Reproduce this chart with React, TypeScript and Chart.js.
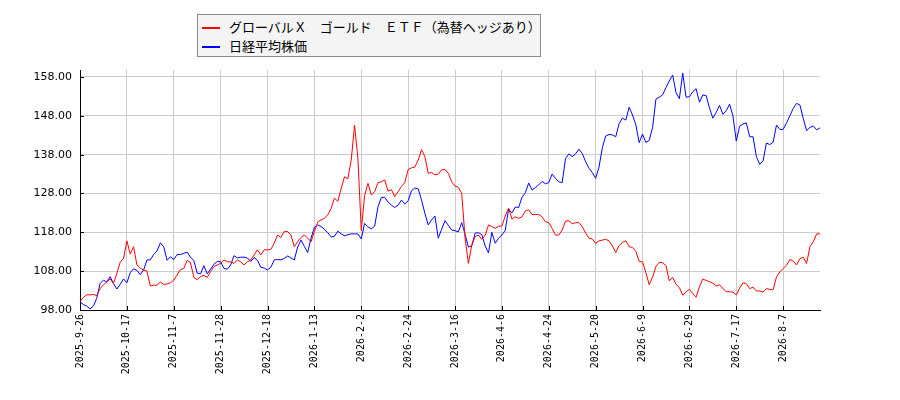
import { useEffect, useRef } from "react";
import { Chart, registerables } from "chart.js";

Chart.register(...registerables);

// tick label every 14 trading days
const tickLabels = [
  "2025-9-26", "2025-10-17", "2025-11-7", "2025-11-28", "2025-12-18", "2026-1-13",
  "2026-2-2", "2026-2-24", "2026-3-16", "2026-4-6", "2026-4-24", "2026-5-20",
  "2026-6-9", "2026-6-29", "2026-7-17", "2026-8-7",
];

const goldEtf = [
  100.2, 101.2, 101.9, 101.9, 102.0, 101.7, 103.5, 104.5, 105.2, 106.0, 104.8, 107.4, 110.3, 111.3,
  115.8, 112.4, 114.3, 109.6, 108.8, 108.3, 108.0, 104.2, 104.4, 104.4, 105.2, 104.6, 104.7, 105.0,
  105.7, 107.0, 108.4, 108.7, 110.8, 110.2, 106.4, 105.8, 106.6, 106.9, 106.4, 107.9, 109.2, 109.6,
  110.0, 110.9, 110.4, 110.4, 110.0, 110.9, 110.4, 109.6, 110.4, 110.9, 112.2, 113.5, 112.2, 113.5,
  113.5, 113.6, 115.2, 117.3, 116.7, 118.2, 118.2, 117.3, 114.3, 115.6, 116.7, 117.3, 116.5, 115.6,
  118.2, 120.7, 121.2, 121.6, 122.5, 124.2, 126.8, 126.0, 129.3, 132.3, 131.8, 136.6, 145.6, 137.0,
  118.5, 127.5, 130.6, 127.6, 128.5, 130.8, 131.0, 131.5, 128.6, 129.0, 127.2, 128.5, 129.8, 130.8,
  134.2, 134.6, 134.8, 136.6, 139.3, 137.5, 133.2, 133.4, 132.8, 133.0, 134.1, 134.2, 133.2, 131.0,
  129.9, 129.6, 128.0, 116.5, 110.0, 114.7, 116.9, 117.3, 116.2, 117.3, 119.9, 119.5, 119.0, 119.6,
  119.6, 122.2, 124.2, 121.4, 122.0, 121.6, 122.0, 123.5, 123.8, 122.6, 122.6, 122.6, 122.0, 120.7,
  120.5, 119.0, 117.3, 117.3, 118.6, 120.9, 121.0, 120.2, 120.5, 120.5, 119.5, 117.8, 116.5, 116.3,
  115.2, 115.8, 116.0, 116.2, 115.8, 114.5, 112.8, 114.6, 115.4, 115.8, 114.3, 114.1, 113.1, 110.5,
  110.4, 107.6, 104.5, 106.5, 109.2, 110.3, 110.2, 109.4, 105.5, 106.4, 104.6, 103.8, 101.8, 102.7,
  103.3, 102.3, 101.3, 104.0, 106.0, 105.6, 105.3, 104.9, 104.2, 104.5, 103.5, 102.7, 102.7, 102.6,
  101.9, 103.6, 105.0, 104.8, 103.5, 103.9, 102.9, 102.9, 102.6, 103.5, 103.3, 103.2, 106.5, 107.8,
  108.7, 109.5, 111.0, 110.6, 109.6, 111.2, 111.6, 110.0, 114.3, 115.6, 117.6, 117.6,
];

const nikkei = [
  100.1, 99.4, 99.0, 98.3, 99.0, 101.0, 104.8, 105.7, 105.2, 106.6, 104.8, 103.4, 104.6, 106.0,
  105.0, 107.6, 108.6, 108.2, 107.1, 108.3, 110.9, 110.9, 112.3, 113.2, 115.3, 114.3, 110.8, 111.7,
  111.0, 112.3, 112.3, 112.6, 112.9, 111.6, 110.7, 107.5, 107.3, 109.4, 107.3, 108.5, 109.8, 110.5,
  110.4, 108.7, 108.5, 109.6, 112.0, 111.4, 111.6, 111.6, 111.4, 110.5, 111.5, 110.8, 109.0, 108.8,
  108.3, 109.0, 110.9, 111.0, 110.9, 111.3, 111.9, 111.4, 110.9, 114.2, 116.0, 114.4, 112.8, 116.5,
  119.3, 119.9, 119.5, 118.8, 117.9, 116.8, 117.0, 118.3, 117.6, 117.1, 117.4, 117.6, 117.6, 117.6,
  116.3, 120.3, 119.4, 118.9, 119.6, 124.6, 127.0, 127.0, 125.8, 125.0, 124.4, 125.0, 126.3, 125.3,
  126.1, 128.7, 129.4, 129.2, 126.3, 122.9, 119.9, 121.2, 122.2, 116.5, 118.8, 121.0, 119.8, 118.6,
  118.4, 118.1, 120.5, 117.5, 114.2, 114.5, 117.8, 117.9, 117.4, 114.5, 112.7, 118.0, 115.2, 116.5,
  117.3, 118.5, 124.0, 123.0, 124.5, 124.4, 127.0, 128.2, 130.7, 128.9, 129.5, 130.2, 131.1, 130.5,
  130.8, 133.0, 131.9, 131.0, 130.8, 137.0, 138.2, 137.5, 138.2, 139.4, 138.3, 136.2, 134.5, 133.4,
  131.9, 134.8, 139.8, 142.8, 143.2, 143.1, 142.6, 146.0, 147.4, 146.9, 150.2, 148.2, 145.7, 141.1,
  143.3, 141.1, 141.7, 145.0, 152.3, 152.8, 153.4, 155.3, 157.0, 158.5, 154.0, 152.4, 159.0, 152.8,
  152.9, 154.2, 155.0, 151.5, 153.4, 153.2, 150.0, 147.4, 148.9, 150.7, 148.4, 149.3, 151.0, 148.0,
  141.5, 145.3, 145.9, 146.2, 142.6, 142.6, 137.5, 135.5, 136.4, 141.0, 140.6, 141.2, 145.6, 144.5,
  144.5, 146.2, 148.0, 149.9, 151.2, 150.8, 147.3, 144.2, 145.0, 145.4, 144.4, 144.9,
];

const yTicks = [98, 108, 118, 128, 138, 148, 158];

const labels = goldEtf.map((_, i) => (i % 14 === 0 ? tickLabels[i / 14] : ""));

// short black ticks pointing into the plot, like the original
const innerTicks = {
  id: "innerTicks",
  afterDraw(chart: any) {
    const { ctx, chartArea, scales } = chart;
    ctx.save();
    ctx.strokeStyle = "#000";
    ctx.lineWidth = 1;
    ctx.beginPath();
    scales.x.ticks.forEach((t: any) => {
      const px = Math.round(scales.x.getPixelForValue(t.value)) + 0.5;
      ctx.moveTo(px, chartArea.bottom);
      ctx.lineTo(px, chartArea.bottom - 4);
    });
    scales.y.ticks.forEach((t: any) => {
      const py = Math.round(scales.y.getPixelForValue(t.value)) + 0.5;
      ctx.moveTo(chartArea.left, py);
      ctx.lineTo(chartArea.left + 4, py);
    });
    ctx.stroke();
    ctx.restore();
  },
};

const legendItems = [
  { label: "グローバルＸ　ゴールド　ＥＴＦ（為替ヘッジあり）", color: "#ff0000" },
  { label: "日経平均株価", color: "#0000ff" },
];

const App = () => {
  const chartRef = useRef<HTMLCanvasElement>(null);

  useEffect(() => {
    if (!chartRef.current) return;
    const chart = new Chart(chartRef.current, {
      type: "line",
      data: {
        labels,
        datasets: [
          { label: legendItems[0].label, data: goldEtf, borderColor: "#ff0000", borderWidth: 1, pointRadius: 0, fill: false },
          { label: legendItems[1].label, data: nikkei, borderColor: "#0000ff", borderWidth: 1, pointRadius: 0, fill: false },
        ],
      },
      options: {
        animation: false,
        responsive: true,
        maintainAspectRatio: false,
        layout: { padding: { top: 70, right: 80, left: 0, bottom: 0 } },
        plugins: { legend: { display: false }, tooltip: { enabled: false } },
        elements: { line: { tension: 0 } },
        scales: {
          x: {
            type: "category",
            offset: false,
            afterBuildTicks: (s: any) => {
              s.ticks = s.ticks.filter((t: any) => t.value % 14 === 0);
            },
            afterFit: (s: any) => {
              s.height = 90;
            },
            grid: { color: "#cccccc", drawTicks: false },
            border: { color: "#000" },
            ticks: {
              autoSkip: false,
              maxRotation: 90,
              minRotation: 90,
              padding: 4,
              color: "#000",
              font: { family: "DejaVu Sans Mono", size: 10 },
            },
          },
          y: {
            min: 98,
            max: 159.8,
            afterBuildTicks: (s: any) => {
              s.ticks = yTicks.map((v) => ({ value: v }));
            },
            afterFit: (s: any) => {
              s.width = 80;
            },
            grid: { color: "#cccccc", drawTicks: false },
            border: { color: "#000" },
            ticks: {
              padding: 8,
              color: "#000",
              font: { family: "DejaVu Sans", size: 11 },
              callback: (v: any) => Number(v).toFixed(2),
            },
          },
        },
      },
      plugins: [innerTicks],
    });
    return () => chart.destroy();
  }, []);

  return (
    <div style={{ position: "absolute", left: 0, top: 0, width: 900, height: 400, background: "#fff" }}>
      <canvas ref={chartRef} />
      <div
        style={{
          position: "absolute",
          left: 197,
          top: 14,
          width: 342,
          height: 41,
          background: "#f4f4f4",
          border: "1px solid #888",
          fontFamily: '"Noto Sans CJK JP", sans-serif',
          fontSize: 13,
          color: "#000",
        }}
      >
        {legendItems.map((item, i) => (
          <div key={i} style={{ position: "absolute", left: 0, top: 3 + i * 19, height: 18, width: "100%" }}>
            <span
              style={{
                position: "absolute",
                left: 4,
                top: 9,
                width: 18,
                height: 2,
                background: item.color,
              }}
            />
            <span style={{ position: "absolute", left: 31, top: 0, lineHeight: "18px", whiteSpace: "nowrap" }}>
              {item.label}
            </span>
          </div>
        ))}
      </div>
    </div>
  );
};

export default App;
